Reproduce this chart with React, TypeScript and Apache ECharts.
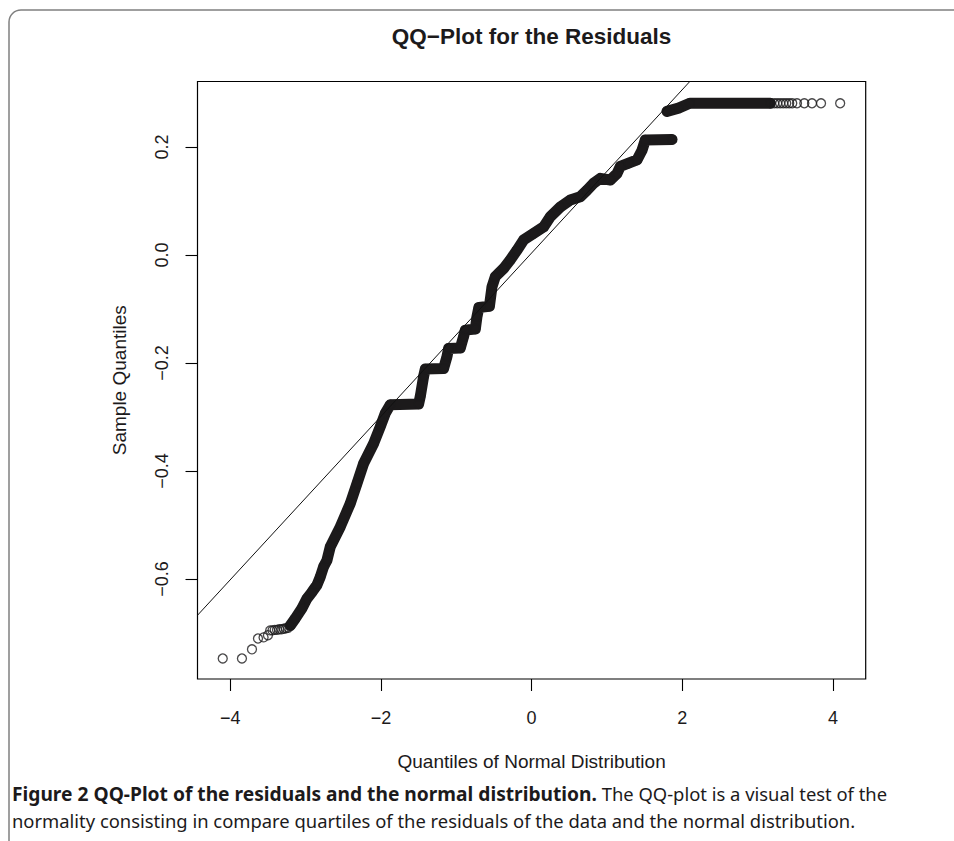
import React, { useEffect, useRef } from "react";
import * as echarts from "echarts";

// Theoretical (normal) quantiles and sample quantiles
const lowTailQ = [-4.10, -3.845, -3.712, -3.632, -3.558, -3.50, -3.47, -3.44, -3.41, -3.38, -3.35, -3.32, -3.29, -3.26, -3.23];
const lowTailS = [-0.747, -0.747, -0.730, -0.710, -0.708, -0.704, -0.695, -0.695, -0.694, -0.694, -0.693, -0.693, -0.692, -0.691, -0.690];

const bandQ = [-3.203, -3.137, -3.048, -2.982, -2.915, -2.849, -2.805, -2.761, -2.716, -2.672, -2.539, -2.407, -2.318, -2.230, -2.097, -2.009, -1.942, -1.876, -1.500, -1.478, -1.434, -1.411, -1.168, -1.123, -1.102, -0.946, -0.903, -0.880, -0.747, -0.725, -0.700, -0.560, -0.526, -0.482, -0.372, -0.283, -0.194, -0.106, 0.027, 0.159, 0.248, 0.381, 0.514, 0.646, 0.735, 0.823, 0.912, 1.045, 1.134, 1.177, 1.288, 1.399, 1.466, 1.509, 1.864];
const bandS = [-0.686, -0.673, -0.654, -0.636, -0.624, -0.611, -0.596, -0.577, -0.565, -0.540, -0.503, -0.460, -0.423, -0.386, -0.349, -0.318, -0.293, -0.277, -0.276, -0.262, -0.225, -0.211, -0.210, -0.188, -0.173, -0.172, -0.151, -0.139, -0.137, -0.114, -0.097, -0.095, -0.059, -0.040, -0.025, -0.009, 0.009, 0.028, 0.040, 0.052, 0.071, 0.089, 0.102, 0.108, 0.120, 0.133, 0.142, 0.139, 0.151, 0.164, 0.170, 0.176, 0.194, 0.213, 0.214];

const upperBandQ = [1.797, 1.95, 2.10, 3.17];
const upperBandS = [0.266, 0.272, 0.281, 0.281];

const highTailQ = [3.22, 3.26, 3.30, 3.34, 3.38, 3.42, 3.46, 3.523, 3.62, 3.722, 3.842, 4.096];
const highTailS = [0.281, 0.281, 0.281, 0.281, 0.281, 0.281, 0.281, 0.281, 0.281, 0.281, 0.281, 0.281];

// Reference line (qqline) end points, read where it meets the plot frame
const qqLineQ = [-4.435, 2.10];
const qqLineS = [-0.667, 0.3213];

const xTicks = [-4, -2, 0, 2, 4];
const yTicks = [-0.6, -0.4, -0.2, 0, 0.2];

const TITLE = "QQ\u2212Plot for the Residuals";
const X_NAME = "Quantiles of Normal Distribution";
const Y_NAME = "Sample Quantiles";
const CAPTION_BOLD = "Figure 2 QQ-Plot of the residuals and the normal distribution.";
const CAPTION_1 = " The QQ-plot is a visual test of the";
const CAPTION_2 = "normality consisting in compare quartiles of the residuals of the data and the normal distribution.";

const zip = (a: number[], b: number[]) => a.map((v, i) => [v, b[i]]);

const FONT = "'Liberation Sans', Arial, Helvetica, sans-serif";
const CAP_FONT = "'Noto Sans', 'Open Sans', sans-serif";
const INK = "#1c1a1b";

export default function App() {
  const ref = useRef<HTMLDivElement>(null);
  useEffect(() => {
    if (!ref.current) return;
    const chart = echarts.init(ref.current, undefined, { renderer: "svg" });
    const minus = (s: string) => s.replace("-", "\u2212");
    const option: any = {
      animation: false,
      backgroundColor: "#ffffff",
      grid: {
        left: 197.5,
        top: 81.5,
        width: 668.2,
        height: 597.5,
        show: true,
        borderColor: "#000",
        borderWidth: 1.2,
        backgroundColor: "transparent",
      },
      xAxis: {
        type: "value",
        min: -4.435,
        max: 4.435,
        axisLine: { show: false, onZero: false },
        splitLine: { show: false },
        axisTick: { show: true, length: 12, customValues: xTicks, lineStyle: { color: "#000", width: 1.1 } },
        axisLabel: {
          customValues: xTicks,
          margin: 30,
          fontSize: 18,
          fontFamily: FONT,
          color: INK,
          formatter: (v: number) => minus(String(v)),
        },
        name: X_NAME,
        nameLocation: "middle",
        nameGap: 73,
        nameTextStyle: { fontSize: 19, fontFamily: FONT, color: INK },
      },
      yAxis: {
        type: "value",
        min: -0.785,
        max: 0.3213,
        axisLine: { show: false, onZero: false },
        splitLine: { show: false },
        axisTick: { show: true, length: 12, customValues: yTicks, lineStyle: { color: "#000", width: 1.1 } },
        axisLabel: {
          customValues: yTicks,
          rotate: 90,
          margin: 27,
          fontSize: 18,
          fontFamily: FONT,
          color: INK,
          formatter: (v: number) => minus(v.toFixed(1)),
        },
        name: Y_NAME,
        nameLocation: "middle",
        nameGap: 69,
        nameTextStyle: { fontSize: 19, fontFamily: FONT, color: INK },
      },
      graphic: [
        {
          type: "rect",
          shape: { x: 9, y: 10, width: 1200, height: 1100, r: 12 },
          style: { fill: "none", stroke: "#808080", lineWidth: 1.5 },
          silent: true,
        },
        {
          type: "text",
          x: 531.5,
          y: 36.5,
          style: {
            text: TITLE,
            textAlign: "center",
            textVerticalAlign: "middle",
            align: "center",
            verticalAlign: "middle",
            fontSize: 22.5,
            fontWeight: "bold",
            fontFamily: FONT,
            fill: INK,
          },
          silent: true,
        },
        {
          type: "text",
          x: 12,
          y: 780,
          style: {
            text: "{b|" + CAPTION_BOLD + "}" + CAPTION_1 + "\n" + CAPTION_2,
            rich: {
              b: { fontWeight: "bold", fontSize: 19.2, fontFamily: CAP_FONT, fill: INK, lineHeight: 27 },
            },
            fontSize: 18.4,
            fontFamily: CAP_FONT,
            fill: INK,
            lineHeight: 27,
            textAlign: "left",
            textVerticalAlign: "top",
            align: "left",
            verticalAlign: "top",
          },
          silent: true,
        },
      ],
      series: [
        {
          type: "line",
          data: zip(bandQ, bandS),
          showSymbol: false,
          symbol: "none",
          lineStyle: { width: 11, color: INK, cap: "round", join: "round" },
          silent: true,
          z: 2,
        },
        {
          type: "line",
          data: zip(upperBandQ, upperBandS),
          showSymbol: false,
          symbol: "none",
          lineStyle: { width: 11, color: INK, cap: "round", join: "round" },
          silent: true,
          z: 2,
        },
        {
          type: "scatter",
          data: [...zip(lowTailQ, lowTailS), ...zip(bandQ, bandS), ...zip(upperBandQ, upperBandS), ...zip(highTailQ, highTailS)],
          symbol: "circle",
          symbolSize: 9,
          itemStyle: { color: "rgba(0,0,0,0)", borderColor: INK, borderWidth: 1.3 },
          silent: true,
          z: 3,
        },
        {
          type: "line",
          data: zip(qqLineQ, qqLineS),
          showSymbol: false,
          symbol: "none",
          lineStyle: { width: 1, color: "#111" },
          silent: true,
          z: 4,
        },
      ],
    };
    chart.setOption(option);
    return () => chart.dispose();
  }, []);
  return (
    <div
      ref={ref}
      style={{ position: "absolute", left: 0, top: 0, width: 954, height: 841, background: "#fff" }}
    />
  );
}
